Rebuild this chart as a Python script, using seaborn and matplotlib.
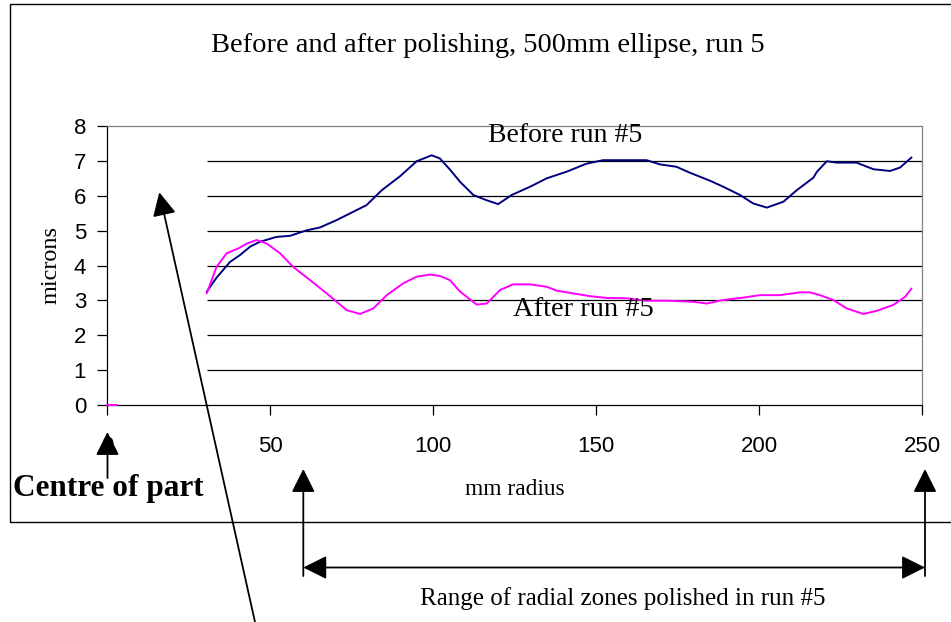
import matplotlib
matplotlib.use("Agg")
import matplotlib.pyplot as plt
from matplotlib.patches import Rectangle
import seaborn as sns

sns.set_style("white")
plt.rcParams["font.family"] = ["Liberation Sans", "DejaVu Sans"]
plt.rcParams["text.color"] = "black"
plt.rcParams["axes.labelcolor"] = "black"
plt.rcParams["xtick.color"] = "black"
plt.rcParams["ytick.color"] = "black"

# Surface error profile before polishing (radius in mm, height in microns)
before_r = [30.6, 33.6, 37.7, 40.8, 43.9, 46.9, 52.0, 56.1, 61.3, 65.3, 70.4, 76.6,
            79.6, 84.3, 89.9, 95.0, 99.6, 102.1, 105.2, 108.3, 112.4, 116.5, 120.0,
            124.1, 129.8, 134.9, 141.0, 147.1, 152.2, 157.4, 165.5, 169.6, 174.7,
            178.8, 185.0, 189.0, 194.2, 198.2, 202.4, 207.5, 211.6, 216.7, 217.7,
            220.8, 223.8, 229.9, 235.1, 240.2, 243.3, 246.8]
before_um = [3.25, 3.65, 4.10, 4.30, 4.54, 4.68, 4.82, 4.85, 5.01, 5.09, 5.30, 5.59,
             5.73, 6.16, 6.56, 6.99, 7.16, 7.07, 6.75, 6.40, 6.02, 5.87, 5.76,
             6.02, 6.26, 6.50, 6.69, 6.92, 7.02, 7.02, 7.02, 6.90, 6.83,
             6.66, 6.43, 6.26, 6.02, 5.78, 5.66, 5.83, 6.16, 6.52, 6.68,
             6.99, 6.95, 6.95, 6.76, 6.71, 6.81, 7.10]

# Surface error profile after polishing
after_r = [30.6, 33.6, 36.7, 40.3, 42.9, 45.9, 49.0, 53.1, 57.1, 62.3, 67.4, 73.5,
           77.6, 81.7, 85.8, 90.9, 95.0, 99.1, 102.1, 105.2, 108.3, 113.4, 116.5,
           120.6, 124.6, 129.8, 134.9, 137.9, 143.0, 148.2, 153.3, 159.4, 165.5,
           172.0, 179.8, 184.0, 189.0, 195.2, 200.3, 206.4, 212.6, 215.6, 218.7,
           222.8, 226.9, 232.0, 236.1, 241.2, 244.8, 246.8]
after_um = [3.20, 3.96, 4.35, 4.49, 4.63, 4.73, 4.63, 4.35, 3.96, 3.58, 3.20, 2.72,
            2.61, 2.77, 3.15, 3.49, 3.68, 3.74, 3.70, 3.58, 3.25, 2.88, 2.91,
            3.30, 3.46, 3.46, 3.39, 3.28, 3.20, 3.12, 3.07, 3.06, 2.99,
            2.99, 2.96, 2.91, 3.01, 3.08, 3.15, 3.15, 3.23, 3.23, 3.15,
            3.01, 2.77, 2.61, 2.70, 2.87, 3.10, 3.34]

# Isolated zero reading at the centre of the part
centre_r = [0.0, 3.0]
centre_um = [0.0, 0.0]

x_ticks = [0, 50, 100, 150, 200, 250]
y_ticks = [0, 1, 2, 3, 4, 5, 6, 7, 8]
grid_levels = [1, 2, 3, 4, 5, 6, 7]
grid_start = 30.7

W, H = 951, 622
fig = plt.figure(figsize=(W / 100, H / 100), dpi=100)

# outer chart frame
fig.add_artist(Rectangle((10 / W, 1 - 522 / H), 960 / W, (522 - 4) / H,
                         transform=fig.transFigure, fill=False,
                         edgecolor="black", linewidth=1.0))

ax = fig.add_axes([107 / W, 1 - 405 / H, (922 - 107) / W, (405 - 126) / H])
ax.set_xlim(0, 250)
ax.set_ylim(0, 8)

ax.hlines(grid_levels, grid_start, 250, colors="black", linewidth=0.9, zorder=1)

sns.lineplot(x=before_r, y=before_um, ax=ax, color="#000080", linewidth=1.4,
             sort=False, zorder=3)
sns.lineplot(x=after_r, y=after_um, ax=ax, color="#FF00FF", linewidth=1.4,
             sort=False, zorder=3)
sns.lineplot(x=centre_r, y=centre_um, ax=ax, color="#FF00FF", linewidth=1.4,
             sort=False, zorder=3, clip_on=False)

ax.set_xticks(x_ticks)
ax.set_yticks(y_ticks)
ax.tick_params(axis="x", direction="out", length=7, width=0.9, pad=15,
               labelsize=16, bottom=True)
ax.tick_params(axis="y", direction="out", length=7, width=0.9, pad=8,
               labelsize=16, left=True)
for side in ("left", "bottom"):
    ax.spines[side].set_color("black")
    ax.spines[side].set_linewidth(0.9)
for side in ("top", "right"):
    ax.spines[side].set_color("#808080")
    ax.spines[side].set_linewidth(0.9)

serif = ["Liberation Serif", "DejaVu Serif"]
ax.set_ylabel("microns", family=serif, fontsize=17.5, labelpad=9)
ax.set_xlabel("")


def px(x, y):
    return (x / W, 1 - y / H)


fig.text(*px(488, 52), "Before and after polishing, 500mm ellipse, run 5",
         family=serif, fontsize=20.5, ha="center", va="baseline")
fig.text(*px(565, 142), "Before run #5", family=serif, fontsize=20,
         ha="center", va="baseline")
fig.text(*px(583.5, 316), "After run #5", family=serif, fontsize=20.5,
         ha="center", va="baseline")
fig.text(*px(515, 495), "mm radius", family=serif, fontsize=16.8,
         ha="center", va="baseline")
fig.text(*px(108.5, 496), "Centre of part", family=serif, fontsize=22.5,
         fontweight="bold", ha="center", va="baseline")
fig.text(*px(623, 605), "Range of radial zones polished in run #5",
         family=serif, fontsize=18, ha="center", va="baseline")

arrow_single = dict(arrowstyle="-|>,head_length=1.0,head_width=0.5",
                    mutation_scale=14.4, color="black", linewidth=1.3,
                    shrinkA=0, shrinkB=0)
arrow_double = dict(arrowstyle="<|-|>,head_length=1.0,head_width=0.5",
                    mutation_scale=14.4, color="black", linewidth=1.3,
                    shrinkA=0, shrinkB=0)

fig_arrows = [
    ((107.5, 478), (107.5, 432)),
    ((259, 640), (159.3, 192.3)),
    ((303.3, 576), (303.3, 469)),
    ((925, 576), (925, 469)),
]
for start, end in fig_arrows:
    ax.annotate("", xy=px(*end), xytext=px(*start), xycoords="figure fraction",
                textcoords="figure fraction", arrowprops=arrow_single,
                annotation_clip=False)
ax.annotate("", xy=px(925, 567.5), xytext=px(303.3, 567.5),
            xycoords="figure fraction", textcoords="figure fraction",
            arrowprops=arrow_double, annotation_clip=False)

fig.savefig("out.png", dpi=100)
